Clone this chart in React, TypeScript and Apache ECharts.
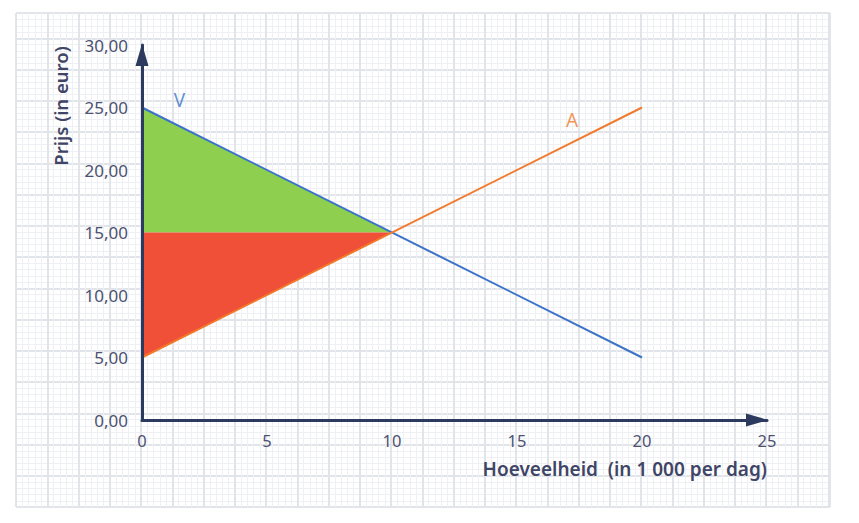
import React, { useEffect, useRef } from "react";
import * as echarts from "echarts";

// Axis ticks
const xTicks = [0, 5, 10, 15, 20, 25];
const yTicks = [0, 5, 10, 15, 20, 25, 30];

// Vraaglijn (V) and aanbodlijn (A)
const vraagX = [0, 20];
const vraagY = [25, 5];
const aanbodX = [0, 20];
const aanbodY = [5, 25];

// Shaded regions (triangles)
const greenX = [0, 10, 0];
const greenY = [25, 15, 15];
const redX = [0, 10, 0];
const redY = [15, 15, 5];

// Line labels
const lineLabels = ["V", "A"];
const lineLabelX = [1.5, 17.2];
const lineLabelY = [25.6, 24.0];
const lineColors = ["#3c73c8", "#f27a2c"];

const yName = "Prijs (in euro)";
const xName = "Hoeveelheid  (in 1 000 per dag)";

const FONT = "'Noto Sans', 'Open Sans', sans-serif";
const AXIS_COLOR = "#2b3a5e";
const LABEL_COLOR = "#4d5272";
const NAME_COLOR = "#3f4566";

export default function App() {
  const ref = useRef<HTMLDivElement>(null);

  useEffect(() => {
    document.body.style.margin = "0";
    if (!ref.current) return;
    const chart = echarts.init(ref.current, undefined, { renderer: "svg" });

    const bgGrid = { left: 16, top: 13, width: 814, height: 494 };
    const bgAxisX = (interval: number, color: string, width: number) => ({
      type: "value",
      gridIndex: interval < 10 ? 0 : 1,
      min: -126,
      max: 688,
      interval,
      silent: true,
      axisLine: { show: false },
      axisTick: { show: false },
      axisLabel: { show: false },
      splitLine: { show: true, lineStyle: { color, width } },
    });
    const bgAxisY = (interval: number, color: string, width: number) => ({
      type: "value",
      gridIndex: interval < 10 ? 0 : 1,
      min: -87,
      max: 407,
      interval,
      silent: true,
      axisLine: { show: false },
      axisTick: { show: false },
      axisLabel: { show: false },
      splitLine: { show: true, lineStyle: { color, width } },
    });

    const polygonSeries = (xs: number[], ys: number[], fill: string) => ({
      type: "custom",
      xAxisIndex: 2,
      yAxisIndex: 2,
      silent: true,
      z: 3,
      data: [[xs[0], ys[0]]],
      renderItem: (_params: any, api: any) => ({
        type: "polygon",
        shape: { points: xs.map((x, i) => api.coord([x, ys[i]])) },
        style: { fill },
      }),
    });

    const option: any = {
      animation: false,
      backgroundColor: "#ffffff",
      textStyle: { fontFamily: FONT },
      grid: [
        { ...bgGrid },
        { ...bgGrid },
        { left: 142, top: 45, width: 625, height: 375 },
      ],
      xAxis: [
        bgAxisX(6.25, "#eef0f3", 1),
        bgAxisX(31.25, "#e1e4e9", 2),
        {
          type: "value",
          gridIndex: 2,
          min: xTicks[0],
          max: xTicks[xTicks.length - 1],
          interval: xTicks[1] - xTicks[0],
          axisLine: {
            show: true,
            symbol: ["none", "triangle"],
            symbolSize: [13, 22],
            symbolOffset: [0, -10],
            lineStyle: { color: AXIS_COLOR, width: 3 },
          },
          axisTick: { show: false },
          splitLine: { show: false },
          axisLabel: {
            margin: 12,
            fontSize: 16.5,
            color: LABEL_COLOR,
            fontFamily: FONT,
          },
          z: 10,
        },
      ],
      yAxis: [
        bgAxisY(6.25, "#eef0f3", 1),
        bgAxisY(31.25, "#e1e4e9", 2),
        {
          type: "value",
          gridIndex: 2,
          min: yTicks[0],
          max: yTicks[yTicks.length - 1],
          interval: yTicks[1] - yTicks[0],
          axisLine: {
            show: true,
            symbol: ["none", "triangle"],
            symbolSize: [13, 22],
            symbolOffset: [0, -10],
            lineStyle: { color: AXIS_COLOR, width: 3 },
          },
          axisTick: { show: false },
          splitLine: { show: false },
          axisLabel: {
            margin: 14,
            fontSize: 17,
            color: LABEL_COLOR,
            fontFamily: FONT,
            formatter: (v: number) => v.toFixed(2).replace(".", ","),
          },
          z: 10,
        },
      ],
      series: [
        polygonSeries(greenX, greenY, "#8ecf4f"),
        polygonSeries(redX, redY, "#f04f38"),
        {
          name: "V",
          type: "line",
          xAxisIndex: 2,
          yAxisIndex: 2,
          symbol: "none",
          z: 5,
          lineStyle: { color: lineColors[0], width: 2 },
          data: vraagX.map((x, i) => [x, vraagY[i]]),
        },
        {
          name: "A",
          type: "line",
          xAxisIndex: 2,
          yAxisIndex: 2,
          symbol: "none",
          z: 5,
          lineStyle: { color: lineColors[1], width: 2 },
          data: aanbodX.map((x, i) => [x, aanbodY[i]]),
        },
        {
          type: "scatter",
          xAxisIndex: 2,
          yAxisIndex: 2,
          symbolSize: 0,
          silent: true,
          z: 6,
          data: lineLabels.map((l, i) => ({
            value: [lineLabelX[i], lineLabelY[i]],
            name: l,
            label: {
              show: true,
              position: "inside",
              formatter: l,
              color: lineColors[i],
              fontSize: 19,
              fontFamily: FONT,
            },
          })),
        },
      ],
      graphic: [
        {
          type: "text",
          x: 60,
          y: 106,
          z: 100,
          rotation: Math.PI / 2,
          style: {
            text: yName,
            fill: NAME_COLOR,
            font: `600 18.5px ${FONT}`,
            align: "center",
            verticalAlign: "middle",
          },
        },
        {
          type: "text",
          x: 767,
          y: 469,
          z: 100,
          style: {
            text: xName,
            fill: NAME_COLOR,
            font: `600 19px ${FONT}`,
            align: "right",
            verticalAlign: "middle",
          },
        },
      ],
    };

    chart.setOption(option);
    return () => chart.dispose();
  }, []);

  return <div ref={ref} style={{ width: 859, height: 523 }} />;
}
